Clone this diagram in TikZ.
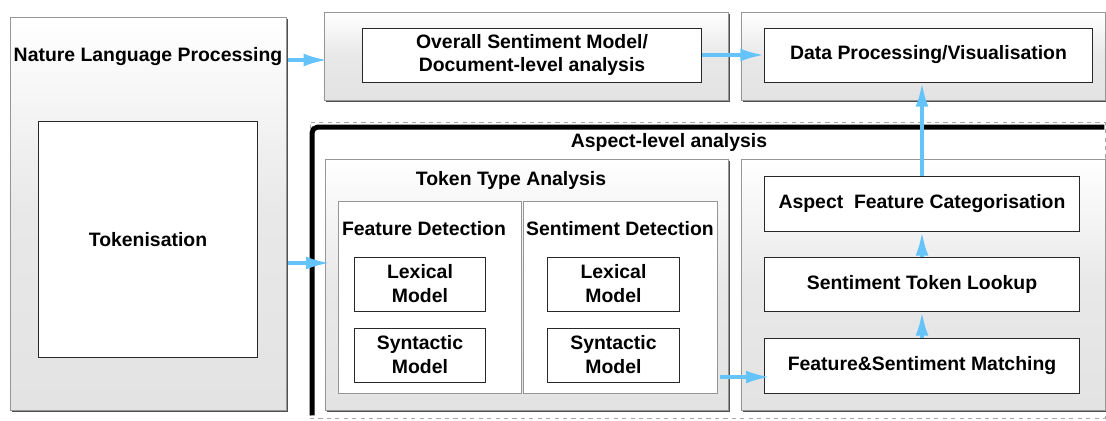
\documentclass[tikz,border=0pt]{standalone}
\usepackage{fontspec}
\setmainfont{Liberation Sans}
\usepackage{tikz}
\usetikzlibrary{arrows.meta, positioning, shadows}
\definecolor{flowblue}{RGB}{100,196,250}
\definecolor{edgegray}{RGB}{150,150,150}
\definecolor{shadowgray}{RGB}{80,80,80}
\definecolor{boxedge}{RGB}{40,40,40}
\newcommand{\boxfont}{\fontsize{13.8}{17}\selectfont\bfseries}
\tikzset{
  panel/.style={rectangle, draw=edgegray, top color=white, bottom color=gray!22,
    middle color=gray!18, line width=0.6pt, drop shadow={shadow xshift=1.3pt,
    shadow yshift=-1.3pt, fill=shadowgray, opacity=1}},
  subpanel/.style={rectangle, draw=edgegray, fill=white, line width=0.6pt},
  innerbox/.style={rectangle, draw=boxedge, fill=white, line width=0.7pt,
    align=center, font=\boxfont},
  headtext/.style={align=center, font=\boxfont, inner sep=1pt},
  aspectframe/.style={rectangle, draw=gray!70, dashed, line width=0.5pt},
  flow/.style={-{Latex[length=6mm, width=3.2mm]}, line width=2.6pt, color=flowblue}
}

\begin{document}
\begin{tikzpicture}[x=0.025cm, y=-0.025cm]
  \useasboundingbox (0,0) rectangle (1106,421);

  % Aspect-level container
  \node[aspectframe, minimum width=19.875cm, minimum height=7.4cm] (aspect) at (707.5,270) {};
  \draw[line width=3.5pt, rounded corners=4pt]
    ([shift={(2.5,-3)}]aspect.south west) -- ([shift={(2.5,5.5)}]aspect.north west)
    -- ([shift={(-1,5.5)}]aspect.north east);
  \node[headtext] (aspecttitle) at (669,142) {Aspect-level analysis};

  % Left column
  \node[panel, minimum width=6.9cm, minimum height=9.825cm] (nlp) at (148,213.5) {};
  \node[headtext] (nlptitle) at (148,57) {Nature Language Processing};
  \node[innerbox, minimum width=5.45cm, minimum height=5.875cm] (token) at (148,239.5) {Tokenisation};

  % Top row
  \node[panel, minimum width=10.1cm, minimum height=2.2cm] (docpanel) at (526,56) {};
  \node[innerbox, minimum width=8.45cm, minimum height=1.35cm] (overall) at (532,55)
    {Overall Sentiment Model/\\Document-level analysis};
  \node[panel, minimum width=9.1cm, minimum height=2.2cm] (datapanel) at (923,56) {};
  \node[innerbox, minimum width=8.175cm, minimum height=1.35cm] (data) at (928.5,55)
    {Data Processing/Visualisation};

  % Token type analysis
  \node[panel, minimum width=10.075cm, minimum height=6.275cm] (ttpanel) at (526.5,284.5) {};
  \node[headtext] (tttitle) at (511,180) {Token Type Analysis};
  \node[subpanel, minimum width=4.575cm, minimum height=4.8cm] (fdet) at (429.5,297) {};
  \node[subpanel, minimum width=4.85cm, minimum height=4.8cm] (sdet) at (620,297) {};
  \node[headtext] (fdettitle) at (424,229) {Feature Detection};
  \node[headtext] (sdettitle) at (620,229) {Sentiment Detection};
  \node[innerbox, minimum width=3.25cm, minimum height=1.35cm] (flex) at (420,284) {Lexical\\Model};
  \node[innerbox, minimum width=3.25cm, minimum height=1.35cm] (fsyn) at (420,355) {Syntactic\\Model};
  \node[innerbox, minimum width=3.275cm, minimum height=1.35cm] (slex) at (613.5,284) {Lexical\\Model};
  \node[innerbox, minimum width=3.275cm, minimum height=1.35cm] (ssyn) at (613.5,355) {Syntactic\\Model};

  % Aspect pipeline
  \node[panel, minimum width=9.1cm, minimum height=6.275cm] (pipepanel) at (923,284.5) {};
  \node[innerbox, minimum width=7.85cm, minimum height=1.375cm] (categ) at (922,203.5)
    {Aspect~~Feature Categorisation};
  \node[innerbox, minimum width=7.85cm, minimum height=1.35cm] (lookup) at (922,284)
    {Sentiment Token Lookup};
  \node[innerbox, minimum width=7.85cm, minimum height=1.375cm] (match) at (922,365.5)
    {Feature\&Sentiment Matching};

  % Flow arrows
  \coordinate (nlpout) at (288,60);
  \coordinate (tokout) at (288,263);
  \coordinate (ttout) at (720,377);
  \draw[flow] (nlpout) -- ([xshift=3]nlpout -| docpanel.west);
  \draw[flow] (overall.east) -- (data.west);
  \draw[flow] (tokout) -- ([xshift=4]tokout -| ttpanel.west);
  \draw[flow] (ttout) -- ([xshift=4]ttout -| match.west);
  \draw[flow] (match.north) -- (lookup.south);
  \draw[flow] (lookup.north) -- (categ.south);
  \draw[flow] (categ.north) -- (categ.north |- data.south);
\end{tikzpicture}
\end{document}
